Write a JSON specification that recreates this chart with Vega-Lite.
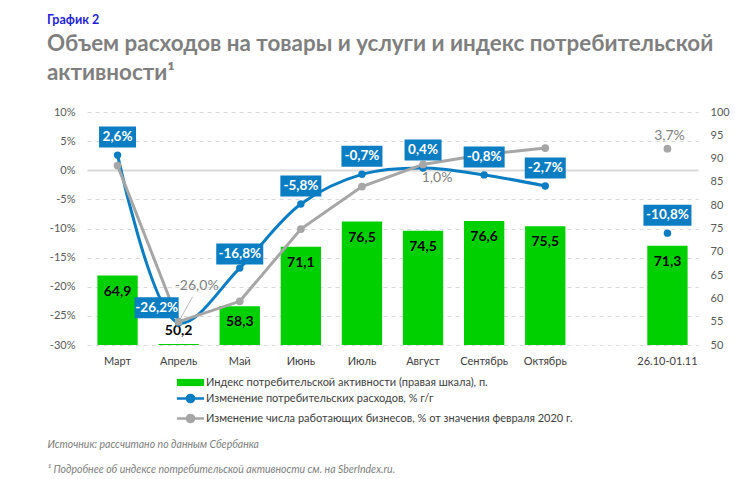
{
  "$schema": "https://vega.github.io/schema/vega-lite/v6.json",
  "width": 611,
  "height": 233,
  "autosize": "none",
  "padding": {"left": 87, "top": 112, "right": 52, "bottom": 134},
  "background": "white",
  "config": {
    "locale": {"number": {"decimal": ",", "thousands": " ", "grouping": [3], "currency": ["", ""], "minus": "-"}},
    "font": "Lato",
    "view": {"stroke": null},
    "legend": {"padding": 0}
  },
  "title": {
    "text": "График 2",
    "subtitle": ["Объем расходов на товары и услуги и индекс потребительской", "активности¹"],
    "anchor": "start",
    "frame": "group",
    "dx": -40,
    "color": "#1F1FD9",
    "fontSize": 12.5,
    "fontWeight": "bold",
    "subtitleColor": "#7F7F7F",
    "subtitleFontSize": 22.4,
    "subtitleFontWeight": "bold",
    "subtitleLineHeight": 29,
    "subtitlePadding": 6,
    "offset": 22
  },
  "data": {
    "values": [
      {"period": "Март", "key": "idx", "series": "Индекс потребительской активности (правая шкала), п.", "value": 64.9},
      {"period": "Апрель", "key": "idx", "series": "Индекс потребительской активности (правая шкала), п.", "value": 50.2},
      {"period": "Май", "key": "idx", "series": "Индекс потребительской активности (правая шкала), п.", "value": 58.3},
      {"period": "Июнь", "key": "idx", "series": "Индекс потребительской активности (правая шкала), п.", "value": 71.1},
      {"period": "Июль", "key": "idx", "series": "Индекс потребительской активности (правая шкала), п.", "value": 76.5},
      {"period": "Август", "key": "idx", "series": "Индекс потребительской активности (правая шкала), п.", "value": 74.5},
      {"period": "Сентябрь", "key": "idx", "series": "Индекс потребительской активности (правая шкала), п.", "value": 76.6},
      {"period": "Октябрь", "key": "idx", "series": "Индекс потребительской активности (правая шкала), п.", "value": 75.5},
      {"period": "26.10-01.11", "key": "idx", "series": "Индекс потребительской активности (правая шкала), п.", "value": 71.3},
      {"period": "Март", "key": "spend", "series": "Изменение потребительских расходов, % г/г", "value": 0.026},
      {"period": "Апрель", "key": "spend", "series": "Изменение потребительских расходов, % г/г", "value": -0.262},
      {"period": "Май", "key": "spend", "series": "Изменение потребительских расходов, % г/г", "value": -0.168},
      {"period": "Июнь", "key": "spend", "series": "Изменение потребительских расходов, % г/г", "value": -0.058},
      {"period": "Июль", "key": "spend", "series": "Изменение потребительских расходов, % г/г", "value": -0.007},
      {"period": "Август", "key": "spend", "series": "Изменение потребительских расходов, % г/г", "value": 0.004},
      {"period": "Сентябрь", "key": "spend", "series": "Изменение потребительских расходов, % г/г", "value": -0.008},
      {"period": "Октябрь", "key": "spend", "series": "Изменение потребительских расходов, % г/г", "value": -0.027},
      {"period": "26.10-01.11", "key": "spend", "series": "Изменение потребительских расходов, % г/г", "value": -0.108},
      {"period": "Март", "key": "biz", "series": "Изменение числа работающих бизнесов, % от значения февраля 2020 г.", "value": 0.008},
      {"period": "Апрель", "key": "biz", "series": "Изменение числа работающих бизнесов, % от значения февраля 2020 г.", "value": -0.26},
      {"period": "Май", "key": "biz", "series": "Изменение числа работающих бизнесов, % от значения февраля 2020 г.", "value": -0.225},
      {"period": "Июнь", "key": "biz", "series": "Изменение числа работающих бизнесов, % от значения февраля 2020 г.", "value": -0.101},
      {"period": "Июль", "key": "biz", "series": "Изменение числа работающих бизнесов, % от значения февраля 2020 г.", "value": -0.028},
      {"period": "Август", "key": "biz", "series": "Изменение числа работающих бизнесов, % от значения февраля 2020 г.", "value": 0.01},
      {"period": "Сентябрь", "key": "biz", "series": "Изменение числа работающих бизнесов, % от значения февраля 2020 г.", "value": 0.027},
      {"period": "Октябрь", "key": "biz", "series": "Изменение числа работающих бизнесов, % от значения февраля 2020 г.", "value": 0.038},
      {"period": "26.10-01.11", "key": "biz", "series": "Изменение числа работающих бизнесов, % от значения февраля 2020 г.", "value": 0.037}
    ]
  },
  "encoding": {
    "x": {
      "field": "period",
      "type": "nominal",
      "sort": null,
      "scale": {"domain": ["Март", "Апрель", "Май", "Июнь", "Июль", "Август", "Сентябрь", "Октябрь", " ", "26.10-01.11"], "paddingInner": 0.34, "paddingOuter": 0.17},
      "axis": {
        "title": ["Источник: рассчитано по данным Сбербанка", "¹ Подробнее об индексе потребительской активности см. на SberIndex.ru."],
        "titleX": -40,
        "titleY": 102,
        "titleAlign": "left",
        "titleAnchor": null,
        "titleBaseline": "alphabetic",
        "titleFontStyle": "italic",
        "titleFontWeight": "normal",
        "titleFontSize": 10.5,
        "titleColor": "#808080",
        "titleLineHeight": 25,
        "labelAngle": 0,
        "labelFontSize": 11,
        "labelColor": "#404040",
        "labelPadding": 10,
        "ticks": false,
        "domain": false,
        "grid": false
      }
    }
  },
  "layer": [
    {
      "encoding": {
        "y": {
          "field": "value",
          "type": "quantitative",
          "scale": {"domain": [50, 100], "nice": false, "zero": false},
          "axis": {"orient": "right", "values": [50, 55, 60, 65, 70, 75, 80, 85, 90, 95, 100], "grid": false, "ticks": false, "domain": false, "labelColor": "#595959", "labelFontSize": 11, "labelPadding": 12, "title": null}
        }
      },
      "layer": [
        {
          "transform": [{"filter": "datum.key === 'idx'"}],
          "mark": {"type": "bar"},
          "encoding": {
            "y2": {"datum": 50},
            "color": {
              "field": "series",
              "type": "nominal",
              "scale": {"domain": ["Индекс потребительской активности (правая шкала), п.", "Изменение потребительских расходов, % г/г", "Изменение числа работающих бизнесов, % от значения февраля 2020 г."], "range": ["#00D000", "#0B7DC2", "#A6A6A6"]},
              "legend": {
                "title": null, "orient": "none", "legendX": 98, "legendY": 265, "direction": "vertical",
                "labelFontSize": 11, "labelColor": "#404040", "labelLimit": 600, "symbolSize": 256, "labelOffset": 10, "rowPadding": 1,
                "encode": {"symbols": {"update": {
                  "shape": {"signal": "datum.index === 0 ? 'M-1.7,-0.45H1.7V0.45H-1.7Z' : 'M-1.7,0H1.7M0.45,0A0.45,0.45,0,1,1,-0.45,0A0.45,0.45,0,1,1,0.45,0'"},
                  "fill": {"scale": "color", "field": "value"},
                  "stroke": {"scale": "color", "field": "value"},
                  "strokeWidth": {"signal": "datum.index === 0 ? 0 : 2.5"},
                  "opacity": {"value": 1},
                  "fillOpacity": {"value": 1},
                  "strokeOpacity": {"value": 1}
                }}}
              }
            }
          }
        },
        {
          "transform": [{"filter": "datum.key === 'idx' && datum.period !== 'Апрель'"}],
          "mark": {"type": "text", "baseline": "middle", "dy": 16, "fontSize": 14, "fontWeight": "bold", "color": "#000000"},
          "encoding": {"text": {"field": "value", "type": "quantitative", "format": ".1f"}}
        },
        {
          "transform": [{"filter": "datum.key === 'idx' && datum.period === 'Апрель'"}],
          "mark": {"type": "text", "baseline": "middle", "dy": -13, "fontSize": 14, "fontWeight": "bold", "color": "#000000"},
          "encoding": {"text": {"field": "value", "type": "quantitative", "format": ".1f"}}
        }
      ]
    },
    {
      "encoding": {
        "y": {
          "field": "value",
          "type": "quantitative",
          "scale": {"domain": [-0.3, 0.1], "nice": false, "zero": false},
          "axis": {
            "orient": "left", "values": [-0.3, -0.25, -0.2, -0.15, -0.1, -0.05, 0, 0.05, 0.1], "format": ".0%",
            "grid": true, "gridColor": "#D9D9D9",
            "gridDash": {"condition": {"test": "abs(datum.value) < 0.001", "value": []}, "value": [4, 4]},
            "gridWidth": {"condition": {"test": "abs(datum.value) < 0.001", "value": 2}, "value": 1},
            "ticks": false, "domain": false, "labelColor": "#595959", "labelFontSize": 11, "labelPadding": 12, "title": null
          }
        }
      },
      "layer": [
        {
          "transform": [{"filter": "datum.key === 'spend' && datum.period !== '26.10-01.11'"}],
          "mark": {"type": "line", "strokeWidth": 3, "interpolate": "catmull-rom"},
          "encoding": {
            "color": {
              "field": "series",
              "type": "nominal",
              "scale": {"domain": ["Индекс потребительской активности (правая шкала), п.", "Изменение потребительских расходов, % г/г", "Изменение числа работающих бизнесов, % от значения февраля 2020 г."], "range": ["#00D000", "#0B7DC2", "#A6A6A6"]}
            }
          }
        },
        {
          "transform": [{"filter": "datum.key === 'biz' && datum.period !== '26.10-01.11'"}],
          "mark": {"type": "line", "strokeWidth": 3, "interpolate": "linear"},
          "encoding": {
            "color": {
              "field": "series",
              "type": "nominal",
              "scale": {"domain": ["Индекс потребительской активности (правая шкала), п.", "Изменение потребительских расходов, % г/г", "Изменение числа работающих бизнесов, % от значения февраля 2020 г."], "range": ["#00D000", "#0B7DC2", "#A6A6A6"]}
            }
          }
        },
        {
          "transform": [{"filter": "datum.key === 'biz' && datum.period === 'Апрель'"}],
          "mark": {"type": "point", "filled": false, "size": 10000, "opacity": 1, "stroke": "#A6A6A6", "strokeWidth": 0.8, "shape": "M0,0L0.28,-0.5"}
        },
        {
          "transform": [{"filter": "datum.key === 'spend'"}],
          "mark": {"type": "point", "filled": true, "size": 55, "opacity": 1, "color": "#0B7DC2"}
        },
        {
          "transform": [{"filter": "datum.key === 'biz'"}],
          "mark": {"type": "point", "filled": true, "size": 60, "opacity": 1, "color": "#A6A6A6"}
        },
        {
          "transform": [{"filter": "datum.key === 'spend'"}],
          "mark": {"type": "point", "filled": true, "size": 10000, "opacity": 1, "color": "#0B7DC2", "strokeWidth": 0},
          "encoding": {
            "shape": {
              "condition": [
                {"test": "datum.period === 'Апрель'", "value": "M-0.88,-0.51H0V-0.09H-0.88Z"},
                {"test": "datum.period === 'Май'", "value": "M-0.47,-0.49H0.47V-0.07H-0.47Z"},
                {"test": "datum.value >= 0", "value": "M-0.37,-0.57H0.37V-0.15H-0.37Z"},
                {"test": "datum.value > -0.1", "value": "M-0.41,-0.57H0.41V-0.15H-0.41Z"}
              ],
              "value": "M-0.48,-0.57H0.48V-0.15H-0.48Z"
            }
          }
        },
        {
          "transform": [{"filter": "datum.key === 'spend' && datum.period !== 'Апрель' && datum.period !== 'Май'"}],
          "mark": {"type": "text", "baseline": "middle", "dy": -18, "fontSize": 13.5, "fontWeight": "bold", "color": "#FFFFFF"},
          "encoding": {"text": {"field": "value", "type": "quantitative", "format": ".1%"}}
        },
        {
          "transform": [{"filter": "datum.key === 'spend' && datum.period === 'Апрель'"}],
          "mark": {"type": "text", "baseline": "middle", "dx": -22, "dy": -15, "fontSize": 13.5, "fontWeight": "bold", "color": "#FFFFFF"},
          "encoding": {"text": {"field": "value", "type": "quantitative", "format": ".1%"}}
        },
        {
          "transform": [{"filter": "datum.key === 'spend' && datum.period === 'Май'"}],
          "mark": {"type": "text", "baseline": "middle", "dy": -14, "fontSize": 13.5, "fontWeight": "bold", "color": "#FFFFFF"},
          "encoding": {"text": {"field": "value", "type": "quantitative", "format": ".1%"}}
        },
        {
          "transform": [{"filter": "datum.key === 'biz' && datum.period === 'Апрель'"}],
          "mark": {"type": "text", "baseline": "middle", "dx": 18, "dy": -36, "fontSize": 14, "color": "#7F7F7F"},
          "encoding": {"text": {"field": "value", "type": "quantitative", "format": ".1%"}}
        },
        {
          "transform": [{"filter": "datum.key === 'biz' && datum.period === 'Август'"}],
          "mark": {"type": "text", "baseline": "middle", "dx": 14, "dy": 14, "fontSize": 14, "color": "#7F7F7F"},
          "encoding": {"text": {"field": "value", "type": "quantitative", "format": ".1%"}}
        },
        {
          "transform": [{"filter": "datum.key === 'biz' && datum.period === '26.10-01.11'"}],
          "mark": {"type": "text", "baseline": "middle", "dx": 2, "dy": -13, "fontSize": 14, "color": "#7F7F7F"},
          "encoding": {"text": {"field": "value", "type": "quantitative", "format": ".1%"}}
        }
      ]
    }
  ],
  "resolve": {"scale": {"y": "independent"}}
}
